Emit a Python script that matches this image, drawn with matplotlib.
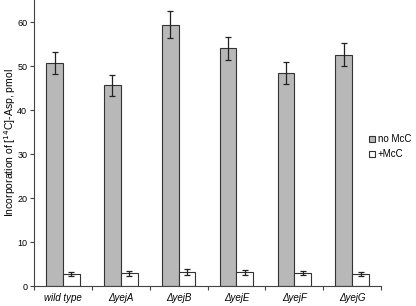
import matplotlib
matplotlib.use("Agg")
import matplotlib.pyplot as plt
import numpy as np

plt.rcParams["font.family"] = ["Liberation Sans", "DejaVu Sans"]

strains = ["wild type", "\u0394yejA", "\u0394yejB", "\u0394yejE", "\u0394yejF", "\u0394yejG"]
no_mcc = [50.7, 45.6, 59.4, 54.0, 48.5, 52.6]
no_mcc_err = [2.5, 2.3, 3.0, 2.7, 2.5, 2.6]
plus_mcc = [2.7, 2.9, 3.2, 3.1, 3.0, 2.8]
plus_mcc_err = [0.5, 0.5, 0.6, 0.6, 0.5, 0.5]

fig = plt.figure(figsize=(4.16, 3.06), dpi=100)
ax = fig.add_axes([0.082, 0.065, 0.834, 0.935])

x = np.arange(len(strains))
w = 0.29
ekw = dict(ecolor="#222222", elinewidth=0.9, capsize=2.5, capthick=0.9)
ax.bar(x - w / 2, no_mcc, w, yerr=no_mcc_err, color="#b8b8b8", edgecolor="#333333",
       linewidth=0.8, error_kw=ekw, label="no McC")
ax.bar(x + w / 2, plus_mcc, w, yerr=plus_mcc_err, color="white", edgecolor="#333333",
       linewidth=0.8, error_kw=ekw, label="+McC")

ax.set_xlim(-0.5, len(strains) - 0.5)
ax.set_ylim(0, 65)
ax.set_yticks(np.arange(0, 61, 10))
ax.set_xticks(np.arange(-0.5, len(strains), 1.0))
ax.set_xticklabels([])
ax.set_xticks(x, minor=True)
ax.set_xticklabels(strains, minor=True, fontstyle="italic", fontsize=7)
ax.tick_params(axis="x", which="minor", length=0, pad=5)
ax.tick_params(axis="x", which="major", length=3, direction="out", color="#444444")
ax.tick_params(axis="y", labelsize=6.5, length=3, color="#444444", pad=2)
for s in ["top", "right"]:
    ax.spines[s].set_visible(False)
for s in ["left", "bottom"]:
    ax.spines[s].set_color("#444444")
    ax.spines[s].set_linewidth(0.8)

ax.set_ylabel("Incorporation of [$^{14}$C]-Asp, pmol", fontsize=7.5)
ax.yaxis.set_label_coords(-0.045, 0.5)

fig.legend(loc="upper left", bbox_to_anchor=(0.88, 0.57), frameon=False, fontsize=7,
           handlelength=0.6, handleheight=0.6, handletextpad=0.3, labelspacing=0.5,
           borderaxespad=0, borderpad=0.3)

fig.savefig("out.png", dpi=100)
